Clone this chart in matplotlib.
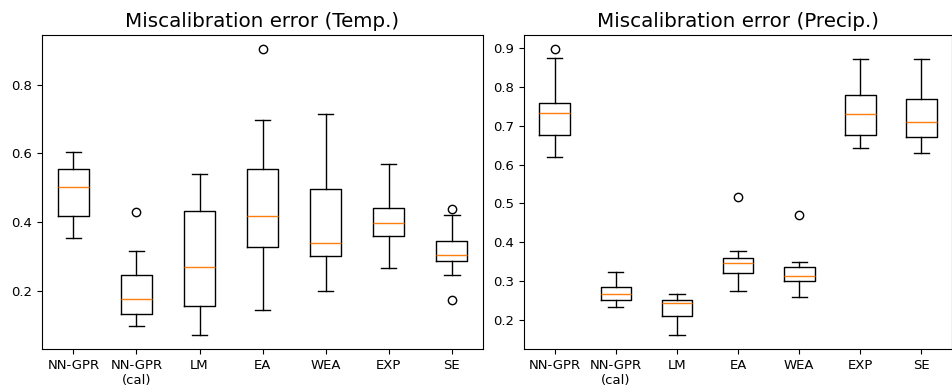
import matplotlib
matplotlib.use("Agg")
import matplotlib.pyplot as plt

labels = ["NN-GPR", "NN-GPR\n(cal)", "LM", "EA", "WEA", "EXP", "SE"]

# temperature miscalibration: whisker low, q1, median, q3, whisker high, outliers
temp_whislo = [0.353, 0.096, 0.071, 0.143, 0.200, 0.265, 0.246]
temp_q1 = [0.416, 0.133, 0.155, 0.328, 0.300, 0.359, 0.286]
temp_med = [0.502, 0.175, 0.270, 0.418, 0.340, 0.396, 0.303]
temp_q3 = [0.553, 0.246, 0.432, 0.555, 0.497, 0.442, 0.343]
temp_whishi = [0.605, 0.315, 0.539, 0.696, 0.715, 0.569, 0.419]
temp_fliers = [[], [0.429], [], [0.903], [], [], [0.437, 0.172]]

# precipitation miscalibration
prec_whislo = [0.620, 0.233, 0.161, 0.275, 0.258, 0.643, 0.630]
prec_q1 = [0.677, 0.250, 0.209, 0.320, 0.300, 0.677, 0.670]
prec_med = [0.734, 0.265, 0.243, 0.345, 0.312, 0.730, 0.709]
prec_q3 = [0.758, 0.283, 0.250, 0.358, 0.337, 0.780, 0.768]
prec_whishi = [0.875, 0.322, 0.265, 0.376, 0.349, 0.873, 0.871]
prec_fliers = [[0.897], [], [], [0.516], [0.471], [], []]


def make_stats(lo, q1, med, q3, hi, fl):
    stats = []
    for i in range(len(labels)):
        stats.append({"whislo": lo[i], "q1": q1[i], "med": med[i],
                      "q3": q3[i], "whishi": hi[i], "fliers": fl[i],
                      "label": labels[i]})
    return stats


fig = plt.figure(figsize=(9.53, 3.9), dpi=100)
ax1 = fig.add_axes([0.044, 0.105, 0.463, 0.805])
ax2 = fig.add_axes([0.550, 0.105, 0.449, 0.805])

ax1.bxp(make_stats(temp_whislo, temp_q1, temp_med, temp_q3, temp_whishi, temp_fliers))
ax1.set_title("Miscalibration error (Temp.)", fontsize=14.3)

ax2.bxp(make_stats(prec_whislo, prec_q1, prec_med, prec_q3, prec_whishi, prec_fliers))
ax2.set_title("Miscalibration error (Precip.)", fontsize=14.3)

for ax in (ax1, ax2):
    ax.tick_params(labelsize=9.5)

fig.savefig("out.png", dpi=100)
